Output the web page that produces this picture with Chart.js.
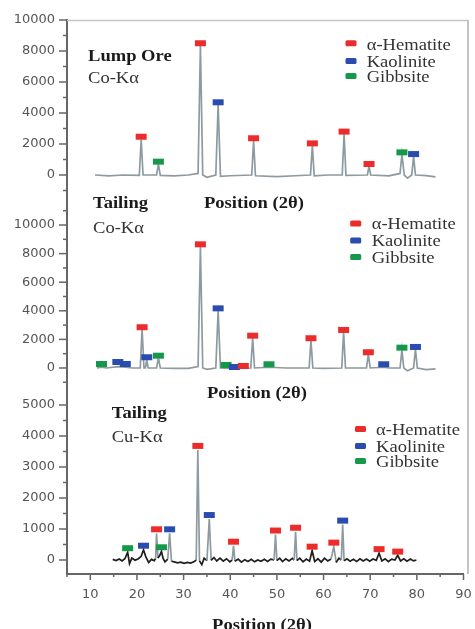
<!DOCTYPE html>
<html><head><meta charset="utf-8">
<script src="https://cdn.jsdelivr.net/npm/chart.js@4.4.1/dist/chart.umd.min.js"></script>
<style>
html,body{margin:0;padding:0;background:#fff;}
#wrap{position:relative;width:475px;height:629px;overflow:hidden;background:#fff;}
canvas{position:absolute;left:0;top:0;}
</style></head><body>
<div id="wrap">
<canvas id="c1" width="475" height="629"></canvas>
<canvas id="c2" width="475" height="629"></canvas>
<canvas id="c3" width="475" height="629"></canvas>
</div>
<script>
// ---------- DATA ----------
const phaseNames = ['α-Hematite', 'Kaolinite', 'Gibbsite'];
const phaseColors = ['#ec2b2b', '#2a4cae', '#16984a'];

const xTicks = [5,10,15,20,25,30,35,40,45,50,55,60,65,70,75,80,85,90];
const xLabels = [10,20,30,40,50,60,70,80,90];
const yTicks1 = [-1000,0,1000,2000,3000,4000,5000,6000,7000,8000,9000,10000];
const yTicks2 = [-1000,0,1000,2000,3000,4000,5000,6000,7000,8000,9000,10000,11000];
const yTicks3 = [0,500,1000,1500,2000,2500,3000,3500,4000,4500,5000];

// Panel 1: Lump Ore, Co-Ka
const pattern1 = [[11.0,0],[14,-50],[17,0],[20.5,-30],[20.9,2300],[21.3,0],[24.2,0],[24.6,700],[25.0,-20],[28,-60],[31,0],[33.1,100],[33.6,8350],[34.1,0],[35,-150],[36.9,0],[37.4,4550],[37.9,-80],[40,-50],[44.6,0],[45.0,2200],[45.4,-50],[50,-100],[54,-50],[57.2,0],[57.6,1900],[58.0,-50],[61,0],[64.0,0],[64.4,2650],[64.8,-30],[69.4,0],[69.75,580],[70.1,0],[74,-50],[76.4,100],[76.8,1330],[77.3,0],[78.0,-200],[78.9,0],[79.3,1200],[79.7,0],[82,-40],[84,-120]];
const hematite1 = [[20.9,2470],[33.6,8500],[45.0,2370],[57.6,2040],[64.4,2800],[69.75,710]];
const kaolinite1 = [[37.4,4690],[79.3,1350]];
const gibbsite1 = [[24.6,860],[76.8,1460]];

// Panel 2: Tailing, Co-Ka
const pattern2 = [[11.4,0],[12.4,60],[13.5,0],[15.9,100],[17.5,60],[19,0],[20.7,0],[21.1,2700],[21.5,0],[21.8,0],[22.1,550],[22.4,0],[24.2,0],[24.6,700],[25.0,0],[28,-30],[31,-30],[33.1,100],[33.6,8500],[34.1,0],[35,-100],[36.9,0],[37.4,4020],[37.9,0],[40,-30],[44.4,0],[44.8,2100],[45.2,0],[48.3,50],[52,0],[56.9,0],[57.3,1930],[57.7,0],[60,-30],[63.9,0],[64.3,2500],[64.7,0],[69.2,0],[69.6,950],[70.0,0],[72.9,50],[74,0],[76.4,0],[76.8,1270],[77.2,0],[78,-200],[79.3,0],[79.7,1320],[80.1,0],[82,-120],[84,-60]];
const hematite2 = [[21.1,2850],[33.6,8650],[42.8,140],[44.8,2260],[57.3,2080],[64.3,2660],[69.6,1100]];
const kaolinite2 = [[15.9,420],[17.5,280],[22.1,750],[37.4,4170],[40.9,70],[72.9,260],[79.7,1470]];
const gibbsite2 = [[12.4,280],[24.6,860],[39.1,210],[48.3,260],[76.8,1420]];

// Panel 3: Tailing, Cu-Ka
const pattern3 = [[14.8,20],[15.5,-20],[16.2,30],[16.8,-30],[17.4,40],[18.0,250],[18.4,-120],[18.9,60],[19.6,-10],[20.3,40],[20.9,120],[21.4,330],[21.9,100],[22.5,-80],[23.1,20],[23.7,-20],[24.0,50],[24.2,850],[24.5,60],[24.9,150],[25.25,280],[25.6,50],[26.0,-60],[26.6,30],[27.0,860],[27.4,-40],[28.0,-60],[28.7,-90],[29.4,-70],[30.1,-110],[30.8,-80],[31.5,-100],[32.2,-60],[32.7,0],[33.05,3550],[33.4,-30],[33.9,-150],[34.4,60],[35.0,-20],[35.5,1320],[35.9,-10],[36.5,80],[37.1,-30],[37.8,60],[38.5,-40],[39.2,40],[39.9,-60],[40.4,0],[40.7,460],[41.0,-40],[41.7,30],[42.4,-70],[43.1,10],[43.8,-50],[44.5,20],[45.2,-60],[45.9,0],[46.6,-40],[47.3,20],[48.0,-50],[48.7,30],[49.4,0],[49.7,820],[50.0,-20],[50.6,60],[51.2,-50],[51.9,40],[52.6,-30],[53.3,50],[53.7,0],[54.0,910],[54.3,-20],[54.9,60],[55.6,-60],[56.3,30],[57.0,-40],[57.55,300],[58.1,-50],[58.8,40],[59.5,-70],[60.2,60],[60.9,-30],[61.6,30],[62.2,430],[62.7,-80],[63.3,60],[63.8,0],[64.1,1140],[64.4,-30],[65.0,40],[65.7,-40],[66.4,20],[67.1,-50],[67.8,40],[68.5,-30],[69.2,30],[69.9,-40],[70.6,30],[71.3,-10],[71.9,220],[72.5,-30],[73.2,40],[73.9,-50],[74.6,30],[75.3,0],[75.9,150],[76.5,-30],[77.2,40],[77.9,-40],[78.6,30],[79.3,-30],[79.9,0]];
const hematite3 = [[24.2,990],[33.05,3680],[40.7,590],[49.7,950],[54.0,1040],[57.55,430],[62.2,560],[71.9,350],[75.9,270]];
const kaolinite3 = [[21.4,460],[27.0,990],[35.5,1450],[64.1,1270]];
const gibbsite3 = [[18.0,380],[25.25,410]];

// ---------- HELPERS ----------
Chart.defaults.font.family = 'DejaVu Sans';
Chart.defaults.font.size = 13;
Chart.defaults.color = '#555';

const SX = 1.16;
function txt(ctx, s, x, y, font, color, align) {
  ctx.save();
  ctx.font = font;
  let w = ctx.measureText(s).width * SX;
  let x0 = align === 'center' ? x - w / 2 : x;
  ctx.translate(x0, y);
  ctx.scale(SX, 1);
  ctx.fillStyle = color;
  ctx.textBaseline = 'alphabetic';
  ctx.textAlign = 'left';
  ctx.fillText(s, 0, 0);
  ctx.restore();
}
const BOLD = 'bold 16px "Liberation Serif", "Times New Roman", serif';
const REG = '16px "Liberation Serif", "Times New Roman", serif';

function pts(arr) { return arr.map(p => ({x: p[0], y: p[1]})); }

function markerSet(arr, color) {
  return {
    type: 'scatter', data: pts(arr), order: 0,
    pointStyle: 'line', pointRadius: 5.5, pointHoverRadius: 5.5,
    pointBorderWidth: 6, pointBorderColor: color, pointBackgroundColor: color,
    borderColor: color, showLine: false, clip: false
  };
}

function makeChart(id, cfg) {
  const decoPlugin = {
    id: 'deco',
    afterDraw(chart) {
      const ctx = chart.ctx;
      const ca = chart.chartArea;
      const ys = chart.scales.y, xs = chart.scales.x;
      ctx.save();
      ctx.strokeStyle = '#666';
      ctx.lineWidth = 1.5;
      cfg.yTicks.forEach(v => {
        const py = ys.getPixelForValue(v);
        const len = (v % cfg.yMajor === 0) ? 8 : 4;
        ctx.beginPath(); ctx.moveTo(ca.left - len, py); ctx.lineTo(ca.left, py); ctx.stroke();
      });
      if (cfg.showX) {
        xTicks.forEach(v => {
          const px = xs.getPixelForValue(v);
          const len = (v % 10 === 0) ? 6 : 3;
          ctx.beginPath(); ctx.moveTo(px, ca.bottom); ctx.lineTo(px, ca.bottom + len); ctx.stroke();
        });
      }
      ctx.restore();
      // legend
      const lg = cfg.legend;
      phaseNames.forEach((n, i) => {
        ctx.save();
        ctx.fillStyle = phaseColors[i];
        ctx.beginPath();
        if (ctx.roundRect) ctx.roundRect(lg.mx - 5.5, lg.my[i] - 3, 11, 6, 1.5); else ctx.rect(lg.mx - 5.5, lg.my[i] - 3, 11, 6);
        ctx.fill();
        ctx.restore();
        txt(ctx, n, lg.tx, lg.ty[i], REG, '#333');
      });
      cfg.texts.forEach(t => txt(ctx, t.s, t.x, t.y, t.f, t.c || '#222', t.a));
      if (cfg.frame) {
        ctx.save();
        ctx.strokeStyle = '#c4c4c4'; ctx.lineWidth = 1.5;
        ctx.beginPath(); ctx.moveTo(67, 20.5); ctx.lineTo(468, 20.5); ctx.stroke();
        ctx.strokeStyle = '#b0b0b0';
        ctx.beginPath(); ctx.moveTo(468, 20); ctx.lineTo(468, 574); ctx.stroke();
        ctx.restore();
      }
    }
  };
  const seg = cfg.blackBase ? {
    borderColor: c => (Math.abs(c.p0.parsed.y) < 420 && Math.abs(c.p1.parsed.y) < 420) ? '#1e1e1e' : '#8d9ba0'
  } : undefined;
  return new Chart(document.getElementById(id), {
    type: 'scatter',
    data: {
      datasets: [
        markerSet(cfg.h, phaseColors[0]),
        markerSet(cfg.k, phaseColors[1]),
        markerSet(cfg.g, phaseColors[2]),
        {
          type: 'line', data: pts(cfg.pattern), order: 10,
          borderColor: '#8d9ba0', borderWidth: cfg.blackBase ? 1.7 : 1.7,
          pointRadius: 0, tension: 0, fill: false, segment: seg
        }
      ]
    },
    options: {
      responsive: false, animation: false, devicePixelRatio: 1,
      layout: { padding: cfg.pad },
      plugins: { legend: { display: false }, tooltip: { enabled: false } },
      scales: {
        x: {
          type: 'linear', min: 5, max: 90, display: cfg.showX,
          afterBuildTicks: s => { s.ticks = xTicks.map(v => ({value: v})); },
          afterFit: s => { if (cfg.showX) s.height = 55; s.paddingLeft = 0; s.paddingRight = 0; },
          grid: { drawOnChartArea: false, drawTicks: false },
          border: { display: true, color: '#666', width: 2 },
          ticks: {
            autoSkip: false, maxRotation: 0, padding: 13, color: '#555',
            font: { size: 13 },
            callback: v => xLabels.includes(v) ? String(v) : ''
          }
        },
        y: {
          type: 'linear', min: cfg.ymin, max: cfg.ymax,
          afterBuildTicks: s => { s.ticks = cfg.yTicks.map(v => ({value: v})); },
          afterFit: s => { s.width = 67; s.paddingTop = 0; s.paddingBottom = 0; },
          grid: { drawOnChartArea: false, drawTicks: false },
          border: { display: true, color: '#666', width: 2 },
          ticks: {
            autoSkip: false, padding: 12, color: '#555', font: { size: 13 },
            callback: v => (v >= 0 && v % cfg.yMajor === 0) ? String(v) : ''
          }
        }
      }
    },
    plugins: [decoPlugin]
  });
}

makeChart('c1', {
  pattern: pattern1, h: hematite1, k: kaolinite1, g: gibbsite1,
  ymin: -1613, ymax: 10000, yTicks: yTicks1, yMajor: 2000, showX: false,
  pad: { top: 20, bottom: 429, left: 0, right: 7 },
  legend: { mx: 351, my: [43.3, 61, 76], tx: 366.7, ty: [49.5, 67, 82] },
  texts: [
    { s: 'Lump Ore', x: 88, y: 61, f: BOLD, c: '#1a1a1a' },
    { s: 'Co-Kα', x: 88, y: 83, f: REG, c: '#333' },
    { s: 'Tailing', x: 93, y: 208, f: BOLD, c: '#1a1a1a' },
    { s: 'Position (2θ)', x: 204, y: 208, f: BOLD, c: '#1a1a1a' }
  ]
});
makeChart('c2', {
  pattern: pattern2, h: hematite2, k: kaolinite2, g: gibbsite2,
  ymin: -2030, ymax: 11750, yTicks: yTicks2, yMajor: 2000, showX: false,
  pad: { top: 200, bottom: 232, left: 0, right: 7 },
  legend: { mx: 355.7, my: [223.5, 240.5, 257], tx: 371.7, ty: [229, 246, 262.5] },
  texts: [
    { s: 'Co-Kα', x: 93, y: 232.7, f: REG, c: '#333' },
    { s: 'Position (2θ)', x: 207, y: 398, f: BOLD, c: '#1a1a1a' }
  ]
});
makeChart('c3', {
  pattern: pattern3, h: hematite3, k: kaolinite3, g: gibbsite3, blackBase: true,
  ymin: -452, ymax: 5258, yTicks: yTicks3, yMajor: 1000, showX: true, frame: true,
  pad: { top: 397, bottom: 0, left: 0, right: 7 },
  legend: { mx: 360.5, my: [429, 446, 461], tx: 376, ty: [434.5, 451.5, 466.5] },
  texts: [
    { s: 'Tailing', x: 111.7, y: 418.3, f: BOLD, c: '#1a1a1a' },
    { s: 'Cu-Kα', x: 111.7, y: 442.3, f: REG, c: '#333' },
    { s: 'Position (2θ)', x: 262, y: 630, f: BOLD, c: '#1a1a1a', a: 'center' }
  ]
});
</script>
</body></html>
